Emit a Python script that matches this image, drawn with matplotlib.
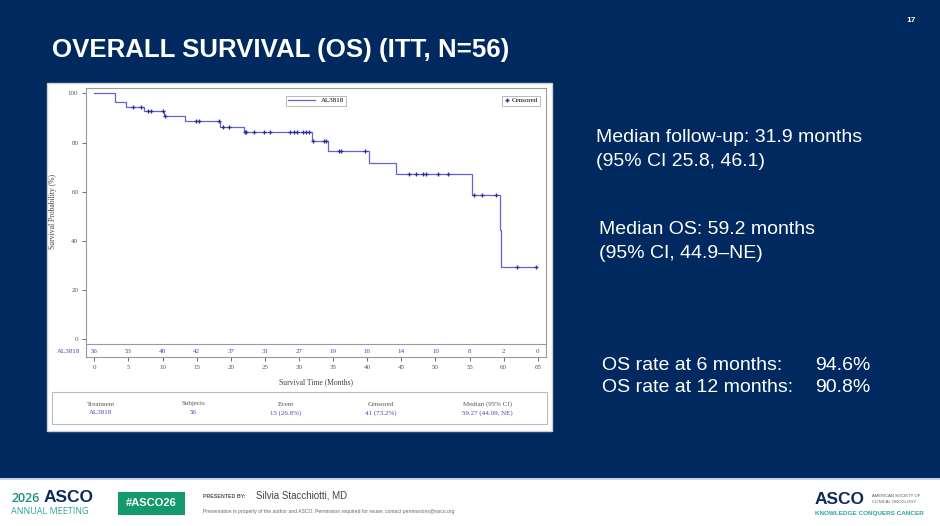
import numpy as np
import matplotlib
matplotlib.use("Agg")
import matplotlib.pyplot as plt
from matplotlib.patches import Rectangle
from matplotlib.lines import Line2D

# Kaplan-Meier data
event_times = [3.05, 4.65, 7.3, 10.2, 13.3, 18.4, 21.95, 31.9, 34.2, 40.3, 44.2, 55.3, 59.4, 59.6]
surv_after = [96.4, 94.6, 92.7, 90.8, 88.6, 86.4, 84.3, 80.7, 76.7, 71.9, 67.2, 58.7, 44.3, 29.4]
censor_times = [5.6, 6.8, 7.9, 8.3, 10.0, 10.4, 14.9, 15.3, 18.2, 18.8, 19.8,
                22.1, 22.3, 23.4, 24.8, 25.8, 28.7, 29.2, 29.7, 30.6, 31.0, 31.5,
                32.1, 33.7, 33.9, 35.8, 36.2, 39.7, 46.1, 47.1, 48.1, 48.6, 50.4,
                51.8, 55.7, 56.8, 58.9, 62.0, 64.7]
last_time = 64.7

risk_times = [0, 5, 10, 15, 20, 25, 30, 35, 40, 45, 50, 55, 60, 65]
at_risk = [56, 53, 48, 42, 37, 31, 27, 19, 16, 14, 10, 8, 2, 0]

summary_headers = ["Treatment", "Subjects", "Event", "Censored", "Median (95% CI)"]
summary_values = ["AL3818", "56", "15 (26.8%)", "41 (73.2%)", "59.27 (44.09, NE)"]

side_text = ["Median follow-up: 31.9 months", "(95% CI 25.8, 46.1)",
             "Median OS: 59.2 months", "(95% CI, 44.9\u2013NE)"]
rate_labels = ["OS rate at 6 months:", "OS rate at 12 months:"]
rate_values = ["94.6%", "90.8%"]

NAVY = "#00295f"
LINE = "#6464cc"
MARK = "#2b2b9c"
BLUE_TXT = "#4646b0"
GRAY = "#9a9a9a"

W, H = 940, 526
fig = plt.figure(figsize=(9.4, 5.26), dpi=100)
fig.patch.set_facecolor(NAVY)


def fx(x):
    return x / W


def fy(y):
    return 1 - y / H


def box(l, t, r, b):
    return [fx(l), fy(b), (r - l) / W, (b - t) / H]


def rect(l, t, r, b, z=-1, **kw):
    fig.patches.append(Rectangle((fx(l), fy(b)), (r - l) / W, (b - t) / H,
                                 transform=fig.transFigure, figure=fig, zorder=z, **kw))


# slide title and page number
fig.text(fx(52), fy(50), "OVERALL SURVIVAL (OS) (ITT, N=56)", color="white",
         fontsize=18.6, fontweight="bold", family="Liberation Sans", va="center")
fig.text(fx(911), fy(20), "17", color="white", fontsize=6, fontweight="bold",
         family="Liberation Sans", va="center", ha="center")

# white panel holding the SAS figure
rect(47, 83, 552, 431, facecolor="white", edgecolor="#d0d0d0", lw=1)

# KM axes (includes the at-risk row below the separator)
ax = fig.add_axes(box(86, 88, 546, 357))
ax.set_facecolor("white")
ax.set_xlim(-1.22, 66.2)
ax.set_ylim(-7.2, 102.2)

xs = [0] + event_times + [last_time]
ys = [100] + surv_after + [surv_after[-1]]
ax.step(xs, ys, where="post", color=LINE, lw=0.9)

idx = np.searchsorted(event_times, censor_times, side="right")
cens_y = [100 if i == 0 else surv_after[i - 1] for i in idx]
ax.plot(censor_times, cens_y, "+", color=MARK, ms=3.5, mew=0.9, ls="none")

ax.axhline(-1.9, color=GRAY, lw=0.8)
for t, n in zip(risk_times, at_risk):
    ax.text(t, -5.0, str(n), color=BLUE_TXT, fontsize=5, family="Liberation Serif",
            ha="center", va="center")
ax.text(-2.0, -5.0, "AL3818", color=BLUE_TXT, fontsize=5, family="Liberation Serif",
        ha="right", va="center", transform=ax.transData, clip_on=False)

ax.set_xticks(risk_times)
ax.set_yticks([0, 20, 40, 60, 80, 100])
ax.tick_params(direction="out", length=3, width=0.6, colors="#555555",
               labelsize=5, pad=2.5)
for lab in ax.get_xticklabels() + ax.get_yticklabels():
    lab.set_family("Liberation Serif")
for s in ax.spines.values():
    s.set_color(GRAY)
    s.set_linewidth(0.8)

ax.set_xlabel("Survival Time (Months)", fontsize=5.5, family="Liberation Serif",
              color="#444444", labelpad=6)
ax.set_ylabel("Survival Probability (%)", fontsize=5.5, family="Liberation Serif",
              color="#444444")
ax.yaxis.set_label_coords(-0.063, 0.54)

leg1 = ax.legend([Line2D([], [], color=LINE, lw=0.9)], ["AL3818"], loc="upper center",
                 bbox_to_anchor=(0.5, 0.985), frameon=True, fancybox=False,
                 edgecolor=GRAY, handlelength=4, borderpad=0.3,
                 prop={"family": "Liberation Serif", "size": 5})
leg1.get_frame().set_linewidth(0.6)
ax.add_artist(leg1)
leg2 = ax.legend([Line2D([], [], color=MARK, marker="+", ls="none", ms=3)], ["Censored"],
                 loc="upper right", bbox_to_anchor=(0.995, 0.985), frameon=True,
                 fancybox=False, edgecolor=GRAY, handlelength=0.8, handletextpad=0.3,
                 borderpad=0.3, prop={"family": "Liberation Serif", "size": 5})
leg2.get_frame().set_linewidth(0.6)

# summary table under the plot
rect(52, 392, 547, 424, z=1, facecolor="none", edgecolor="#bbbbbb", lw=0.8)
col_x = [101, 193, 286, 381, 487]
for x, h, v in zip(col_x, summary_headers, summary_values):
    fig.text(fx(x), fy(405.5), h, fontsize=5, family="Liberation Serif", color="#555555",
             ha="center", va="baseline")
    fig.text(fx(x), fy(414.5), v, fontsize=5, family="Liberation Serif", color=BLUE_TXT,
             ha="center", va="baseline")

# right-hand text
for (x, y), s in zip([(596, 137), (596, 161), (599, 229), (599, 254)], side_text):
    fig.text(fx(x), fy(y), s, color="white", fontsize=14, family="Liberation Sans",
             va="center")
for y, lab, val in zip([365, 387], rate_labels, rate_values):
    fig.text(fx(602), fy(y), lab, color="white", fontsize=14, family="Liberation Sans",
             va="center")
    fig.text(fx(815), fy(y), val, color="white", fontsize=14, family="Liberation Sans",
             va="center")

# footer
rect(0, 479, 940, 526, facecolor="white", edgecolor="none")
rect(0, 478, 940, 480, facecolor="#c9d3e3", edgecolor="none")
fig.text(fx(11), fy(498), "2026", color="#1a8f7a", fontsize=9, fontweight="semibold",
         family="Open Sans", va="center")
fig.text(fx(44), fy(497), "ASCO", color="#0b2a5c", fontsize=12.5, fontweight="bold",
         family="Liberation Sans", va="center")
fig.text(fx(11), fy(512), "ANNUAL MEETING", color="#2ba6a0", fontsize=6.5,
         family="Open Sans", va="center")
rect(118, 492, 185, 515, z=1, facecolor="#13996b", edgecolor="none")
fig.text(fx(151.5), fy(503.5), "#ASCO26", color="white", fontsize=8, fontweight="bold",
         family="Liberation Sans", ha="center", va="center")
fig.text(fx(203), fy(497), "PRESENTED BY:", color="#555555", fontsize=3.8,
         fontweight="bold", family="Liberation Sans", va="center")
fig.text(fx(256), fy(496), "Silvia Stacchiotti, MD", color="#444444", fontsize=7,
         family="Liberation Sans", va="center")
fig.text(fx(203), fy(512), "Presentation is property of the author and ASCO. Permission "
         "required for reuse; contact permissions@asco.org", color="#666666",
         fontsize=3.6, family="Liberation Sans", va="center")
fig.text(fx(815), fy(500), "ASCO", color="#0b2a5c", fontsize=12.5, fontweight="bold",
         family="Liberation Sans", va="center")
fig.text(fx(872), fy(496), "AMERICAN SOCIETY OF", color="#555555", fontsize=3,
         family="Liberation Sans", va="center")
fig.text(fx(872), fy(502), "CLINICAL ONCOLOGY", color="#555555", fontsize=3,
         family="Liberation Sans", va="center")
fig.text(fx(815), fy(514), "KNOWLEDGE CONQUERS CANCER", color="#2ba6a0", fontsize=4.6,
         fontweight="bold", family="Liberation Sans", va="center")

fig.savefig("out.png", dpi=100, facecolor=NAVY)
